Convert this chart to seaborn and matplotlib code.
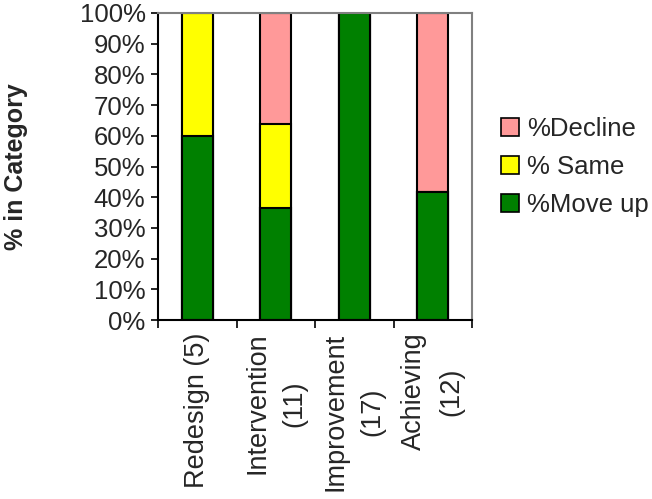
import matplotlib
matplotlib.use("Agg")
import matplotlib.pyplot as plt
from matplotlib.patches import Patch
from matplotlib.ticker import PercentFormatter
import seaborn as sns
import pandas as pd
import numpy as np

categories = ["Redesign (5)", "Intervention\n(11)", "Improvement\n(17)", "Achieving\n(12)"]
move_up = [60.0, 36.4, 100.0, 41.7]
same = [40.0, 27.3, 0.0, 0.0]
decline = [0.0, 36.3, 0.0, 58.3]
series_names = ["%Decline", "% Same", "%Move up"]
colors = {"%Decline": "#FF9999", "% Same": "#FFFF00", "%Move up": "#008000"}

sns.set_theme(style="white")
plt.rcParams["font.family"] = ["Liberation Sans", "DejaVu Sans"]

df = pd.DataFrame({"cat": categories, "move": move_up, "same": same, "decline": decline})
df["c1"] = df["move"]
df["c2"] = df["move"] + df["same"]
df["c3"] = df["c2"] + df["decline"]

fig = plt.figure(figsize=(6.52, 4.99), dpi=100)
ax = fig.add_axes([158/652, 1-320/499, (472-158)/652, (320-13)/499])

for col, name in [("c3", "%Decline"), ("c2", "% Same"), ("c1", "%Move up")]:
    sns.barplot(data=df, x="cat", y=col, color=colors[name], saturation=1,
                width=0.4, edgecolor="black", linewidth=1.5, ax=ax, errorbar=None)

FS = 18.5
ax.set_ylim(0, 100)
ax.set_xlim(-0.5, 3.5)
ax.set_yticks(np.arange(0, 101, 10))
ax.yaxis.set_major_formatter(PercentFormatter(100, decimals=0))
ax.tick_params(axis="y", which="major", direction="out", length=5, width=1.2,
               color="black", labelsize=FS, left=True, pad=4)
ax.set_xticks(range(len(categories)))
ax.set_xticklabels(categories, rotation=90, fontsize=19.5, linespacing=1.55, va="top", ha="center")
ax.tick_params(axis="x", which="major", length=0, pad=9)
ax.set_xticks(np.arange(-0.5, 4, 1), minor=True)
ax.tick_params(axis="x", which="minor", direction="out", length=6, width=1.2,
               color="black", bottom=True)
ax.set_xlabel("")
ax.set_ylabel("% in Category", fontsize=18, fontweight="bold", labelpad=37)

for s in ["left", "bottom"]:
    ax.spines[s].set_color("black")
    ax.spines[s].set_linewidth(1.5)
for s in ["top", "right"]:
    ax.spines[s].set_color("#808080")
    ax.spines[s].set_linewidth(1.5)

handles = [Patch(facecolor=colors[n], edgecolor="black", linewidth=1.2) for n in series_names]
leg = fig.legend(handles, series_names, loc="center left", bbox_to_anchor=(501/652, 1-167/499),
                 frameon=False, fontsize=FS, handlelength=0.7, handleheight=0.7,
                 handletextpad=0.3, labelspacing=0.55, borderaxespad=0, borderpad=0)

fig.savefig("out.png", dpi=100)
